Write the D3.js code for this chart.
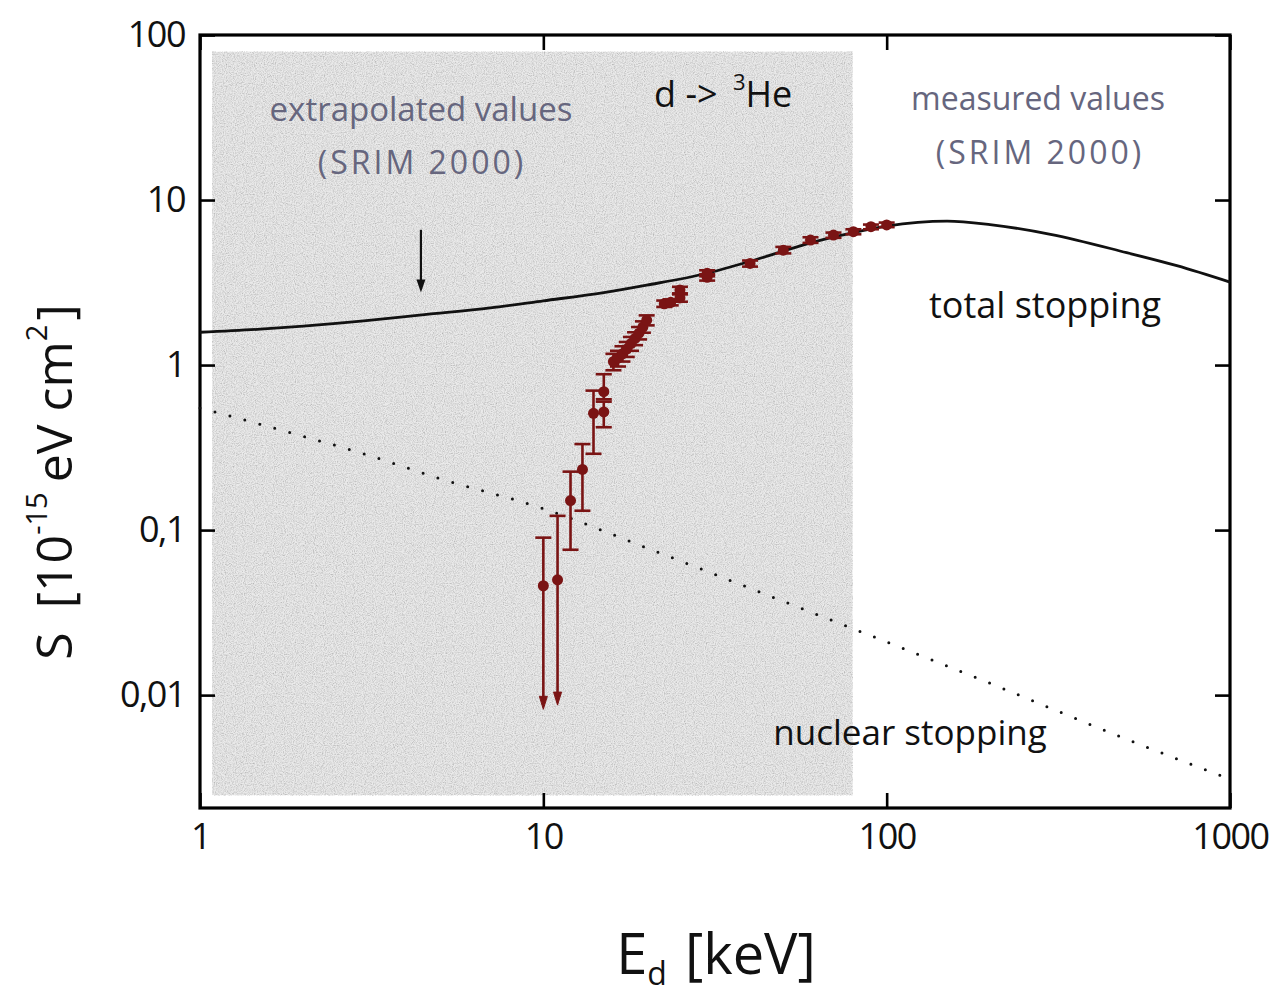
<!DOCTYPE html>
<html>
<head>
<meta charset="utf-8">
<script src="https://cdn.jsdelivr.net/npm/d3@7"></script>
<style>
  body { margin: 0; background: #fff; }
  svg { display: block; }
</style>
</head>
<body>
<svg id="chart" width="1281" height="993"></svg>
<script>
// stopping power of d in 3He
const totalE = [1, 1.5, 2, 3, 4.5, 7, 10, 15, 20, 30, 40, 50, 60, 80, 100, 150, 200, 300, 500, 700, 1000];
const totalS = [1.58, 1.65, 1.72, 1.85, 2.02, 2.22, 2.45, 2.75, 3.05, 3.6, 4.25, 4.9, 5.5, 6.35, 6.95, 7.45, 7.1, 6.2, 4.8, 4.0, 3.18];

const nuclearE = [1, 2, 3, 5, 10, 20, 50, 100, 200, 500, 1000];
const nuclearS = [0.55, 0.37, 0.29, 0.205, 0.135, 0.078, 0.037, 0.021, 0.0118, 0.0054, 0.0031];

const pointE  = [10, 11, 12, 13, 14, 15, 15, 16, 16.5, 17, 17.5, 18, 18.5, 19, 19.5, 20, 22.5, 23.5, 25, 25, 30, 30, 40, 50, 60, 70, 80, 90, 100];
const pointS  = [0.046, 0.05, 0.151, 0.233, 0.51, 0.52, 0.69, 1.05, 1.1, 1.17, 1.25, 1.35, 1.45, 1.56, 1.7, 1.87, 2.35, 2.4, 2.55, 2.85, 3.4, 3.6, 4.13, 4.97, 5.72, 6.13, 6.43, 6.89, 7.06];
const pointLo = [0.0082, 0.0087, 0.076, 0.131, 0.29, 0.42, 0.62, 0.93, 0.98, 1.05, 1.12, 1.22, 1.32, 1.43, 1.57, 1.74, 2.25, 2.3, 2.42, 2.72, 3.25, 3.45, 3.95, 4.75, 5.5, 5.9, 6.2, 6.65, 6.85];
const pointHi = [0.09, 0.122, 0.226, 0.332, 0.70, 0.60, 0.88, 1.17, 1.22, 1.3, 1.38, 1.48, 1.58, 1.7, 1.84, 2.0, 2.46, 2.5, 2.68, 2.98, 3.55, 3.75, 4.3, 5.2, 5.95, 6.35, 6.65, 7.1, 7.3];
const pointLimit = [true, true, false, false, false, false, false, false, false, false, false, false, false, false, false, false, false, false, false, false, false, false, false, false, false, false, false, false, false];

const xMajor = [1, 10, 100, 1000];
const xTickLabels = ["1", "10", "100", "1000"];
const yMajor = [0.01, 0.1, 1, 10, 100];
const yTickLabels = ["0,01", "0,1", "1", "10", "100"];

// shaded "extrapolated" region (data coordinates)
const shadeE = [1.085, 79.5];
const shadeS = [0.00248, 79];

const svg = d3.select("#chart");
const plotLeft = 200, plotRight = 1230, plotTop = 35, plotBottom = 808;
const font = "'Open Sans', 'DejaVu Sans', sans-serif";
const red = "#7a1414";

const x = d3.scaleLog().domain([1, 1000]).range([plotLeft, plotRight]);
const y = d3.scaleLog().domain([0.00207, 100]).range([plotBottom, plotTop]);

const defs = svg.append("defs");
const grain = defs.append("filter").attr("id", "grain")
    .attr("x", 0).attr("y", 0).attr("width", 1).attr("height", 1);
grain.append("feTurbulence")
    .attr("type", "fractalNoise").attr("baseFrequency", 0.9)
    .attr("numOctaves", 2).attr("seed", 4).attr("result", "n");
grain.append("feColorMatrix").attr("type", "matrix")
    .attr("values", "1.4 0 0 0 0.1  1.4 0 0 0 0.1  1.4 0 0 0 0.1  0 0 0 0 1");

// grey band
const shade = svg.append("g");
shade.append("rect")
    .attr("x", x(shadeE[0])).attr("y", y(shadeS[1]))
    .attr("width", x(shadeE[1]) - x(shadeE[0]))
    .attr("height", y(shadeS[0]) - y(shadeS[1]))
    .attr("fill", "#d9d9d9");
shade.append("rect")
    .attr("x", x(shadeE[0])).attr("y", y(shadeS[1]))
    .attr("width", x(shadeE[1]) - x(shadeE[0]))
    .attr("height", y(shadeS[0]) - y(shadeS[1]))
    .attr("filter", "url(#grain)")
    .attr("opacity", 0.45);

// axes, ticks pointing inward on every side
const xMinor = x.ticks().filter(v => !xMajor.includes(v));
const yMinor = y.ticks().filter(v => !yMajor.some(m => Math.abs(m - v) / m < 1e-6));

function drawAxis(axisFn, scale, major, minor, labels, transform, showLabels) {
    const g = svg.append("g").attr("transform", transform);
    g.call(axisFn(scale).tickValues(minor).tickSize(-8).tickFormat(""));
    g.call(axisFn(scale).tickValues(major).tickSize(-15).tickPadding(15)
        .tickFormat((d, i) => showLabels ? labels[i] : ""));
    g.selectAll(".domain").remove();
    g.selectAll("line").attr("stroke", "#000").attr("stroke-width", 2.6);
    g.selectAll("text").attr("font-family", font).attr("font-size", 36)
        .attr("letter-spacing", -1.5).attr("fill", "#111");
    return g;
}

drawAxis(d3.axisBottom, x, xMajor, xMinor, xTickLabels, `translate(0,${plotBottom})`, true);
drawAxis(d3.axisTop, x, xMajor, xMinor, xTickLabels, `translate(0,${plotTop})`, false);
drawAxis(d3.axisLeft, y, yMajor, yMinor, yTickLabels, `translate(${plotLeft},0)`, true);
drawAxis(d3.axisRight, y, yMajor, yMinor, yTickLabels, `translate(${plotRight},0)`, false);

svg.append("rect")
    .attr("x", plotLeft).attr("y", plotTop)
    .attr("width", plotRight - plotLeft).attr("height", plotBottom - plotTop)
    .attr("fill", "none").attr("stroke", "#000").attr("stroke-width", 3.2);

// curves
const line = d3.line().x(d => x(d[0])).y(d => y(d[1])).curve(d3.curveMonotoneX);

svg.append("path")
    .datum(nuclearE.map((e, i) => [e, nuclearS[i]]))
    .attr("d", line)
    .attr("fill", "none").attr("stroke", "#111")
    .attr("stroke-width", 3).attr("stroke-linecap", "round")
    .attr("stroke-dasharray", "0 15.5");

svg.append("path")
    .datum(totalE.map((e, i) => [e, totalS[i]]))
    .attr("d", line)
    .attr("fill", "none").attr("stroke", "#111").attr("stroke-width", 2.8);

// measured points with error bars
const pts = pointE.map((e, i) => ({e: e, s: pointS[i], lo: pointLo[i], hi: pointHi[i], lim: pointLimit[i]}));
const pg = svg.append("g").attr("fill", red).attr("stroke", red);

pg.selectAll(".bar").data(pts).join("line")
    .attr("x1", d => x(d.e)).attr("x2", d => x(d.e))
    .attr("y1", d => y(d.hi)).attr("y2", d => d.lim ? y(d.lo) - 10 : y(d.lo))
    .attr("stroke-width", 2.6);

pg.selectAll(".capHi").data(pts).join("line")
    .attr("x1", d => x(d.e) - 8).attr("x2", d => x(d.e) + 8)
    .attr("y1", d => y(d.hi)).attr("y2", d => y(d.hi))
    .attr("stroke-width", 2.6);

pg.selectAll(".capLo").data(pts.filter(d => !d.lim)).join("line")
    .attr("x1", d => x(d.e) - 8).attr("x2", d => x(d.e) + 8)
    .attr("y1", d => y(d.lo)).attr("y2", d => y(d.lo))
    .attr("stroke-width", 2.6);

pg.selectAll(".arrow").data(pts.filter(d => d.lim)).join("path")
    .attr("d", d => {
        const cx = x(d.e), ty = y(d.lo);
        return `M${cx - 4},${ty - 13} L${cx + 4},${ty - 13} L${cx},${ty} Z`;
    })
    .attr("stroke-width", 1);

pg.selectAll("circle").data(pts).join("circle")
    .attr("cx", d => x(d.e)).attr("cy", d => y(d.s))
    .attr("r", 5.5).attr("stroke", "none");

// arrow marking the extrapolation
const ax = x(4.4);
svg.append("line")
    .attr("x1", ax).attr("x2", ax)
    .attr("y1", y(6.6)).attr("y2", y(3.1))
    .attr("stroke", "#111").attr("stroke-width", 2.2);
svg.append("path")
    .attr("d", `M${ax - 4.5},${y(3.3)} L${ax + 4.5},${y(3.3)} L${ax},${y(2.75)} Z`)
    .attr("fill", "#111");

// annotations
const grey = "#66667e";
function label(txt, px, py, size, color, anchor) {
    return svg.append("text")
        .attr("x", px).attr("y", py)
        .attr("font-family", font).attr("font-size", size)
        .attr("fill", color).attr("text-anchor", anchor || "middle")
        .text(txt);
}
label("extrapolated values", 421, 121, 33, grey);
label("(SRIM 2000)", 422, 174, 32, grey).attr("letter-spacing", 3);
label("measured values", 1038, 110, 32, grey);
label("(SRIM 2000)", 1040, 164, 32, grey).attr("letter-spacing", 3);
label("total stopping", 1045, 318, 36, "#111");
label("nuclear stopping", 910, 745, 35, "#111");

const he = svg.append("text")
    .attr("x", 654).attr("y", 107)
    .attr("font-family", font).attr("font-size", 36).attr("fill", "#111");
he.append("tspan").text("d -> ");
he.append("tspan").attr("font-size", 22).attr("dy", -17).attr("dx", 6).text("3");
he.append("tspan").attr("dy", 17).text("He");

// axis titles
const xt = svg.append("text")
    .attr("x", 716).attr("y", 974)
    .attr("text-anchor", "middle")
    .attr("font-family", font).attr("font-size", 56).attr("fill", "#111");
xt.append("tspan").text("E");
xt.append("tspan").attr("font-size", 32).attr("dy", 11).text("d");
xt.append("tspan").attr("dy", -11).attr("dx", 18).text("[keV]");

const yt = svg.append("text")
    .attr("transform", "translate(72,482) rotate(-90)")
    .attr("text-anchor", "middle")
    .attr("font-family", font).attr("font-size", 50).attr("fill", "#111");
yt.append("tspan").text("S");
yt.append("tspan").attr("dx", 24).text("[10");
yt.append("tspan").attr("font-size", 29).attr("dy", -25).text("-15");
yt.append("tspan").attr("dy", 25).attr("dx", 10).text("eV cm");
yt.append("tspan").attr("font-size", 29).attr("dy", -25).text("2");
yt.append("tspan").attr("dy", 25).attr("dx", 4).text("]");
</script>
</body>
</html>
